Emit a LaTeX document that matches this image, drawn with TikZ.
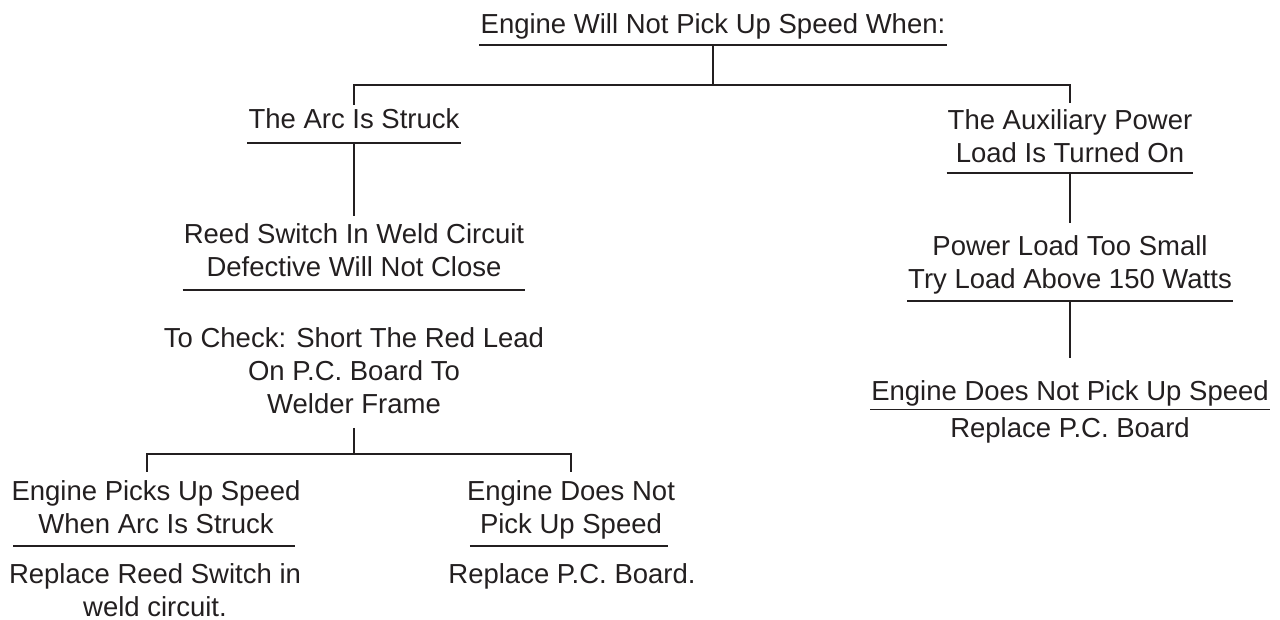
\documentclass[tikz,border=0pt]{standalone}
\usepackage{fontspec}
\setmainfont{Liberation Sans}
\definecolor{ink}{HTML}{231F20}
\tikzset{
  txt/.style={align=center, inner xsep=1pt, inner ysep=0pt, anchor=north, text=ink,
    font=\fontsize{27.5}{33.3}\selectfont,
    execute at begin node={\rule{0pt}{20pt}}},
  gap/.style={execute at end node={\rule[-#1pt]{0pt}{#1pt}}},
  link/.style={draw=ink, line width=1.8pt},
  uline/.style={draw=ink, line width=1.8pt}
}
\begin{document}
\begin{tikzpicture}[x=1pt, y=-1pt]
\useasboundingbox (0,0) rectangle (1280,620);

% question at the top
\node[txt, gap=12] (title) at (713,13) {Engine Will Not Pick Up Speed When:};

% left branch
\node[txt, gap=15] (arc) at (354,108) {The Arc Is Struck};
\node[txt, gap=13] (reed) at (354,223) {Reed Switch In Weld Circuit\\Defective Will Not Close};
\node[txt, gap=12] (check) at (354,327) {To Check: Short The Red Lead\\On P.C. Board To\\Welder Frame};
\node[txt, gap=12] (pick) at (156,480) {Engine Picks Up Speed\\When Arc Is Struck};
\node[txt, gap=12] (notpick) at (571,480) {Engine Does Not\\Pick Up Speed};
\node[txt] (replreed) at (155,563) {Replace Reed Switch in\\weld circuit.};
\node[txt] (replpca) at (572,563) {Replace P.C. Board.};

% right branch
\node[txt, gap=10] (aux) at (1070,109) {The Auxiliary Power\\Load Is Turned On};
\node[txt, gap=12] (power) at (1070,235) {Power Load Too Small\\Try Load Above 150 Watts};
\node[txt, gap=9] (enp) at (1070,380) {Engine Does Not Pick Up Speed};
\node[txt] (replpcb) at (1070,417) {Replace P.C. Board};

% underlines
\foreach \n in {title,arc,reed,aux,power,enp}
  \draw[uline] (\n.south west) -- (\n.south east);
\draw[uline] ([xshift=3pt]pick.south west) -- ([xshift=-7pt]pick.south east);
\draw[uline] ([xshift=4pt]notpick.south west) -- ([xshift=-8pt]notpick.south east);

% connectors
\draw[link] (title.south) -- ++(0,40) coordinate (j1);
\draw[link, shorten >=3pt] (j1) -| (arc.north);
\draw[link, shorten >=6pt] (j1) -| (aux.north);
\draw[link, shorten >=7pt] (arc.south) -- (reed.north);
\draw[link, shorten >=12pt] (aux.south) -- (power.north);
\draw[link, shorten >=22pt] (power.south) -- (enp.north);
\draw[link, shorten <=2pt] (check.south) -- ++(0,28) coordinate (j2);
\draw[link, shorten >=8pt] (j2) -| ([xshift=-9pt]pick.north);
\draw[link, shorten >=8pt] (j2) -| (notpick.north);
\end{tikzpicture}
\end{document}
